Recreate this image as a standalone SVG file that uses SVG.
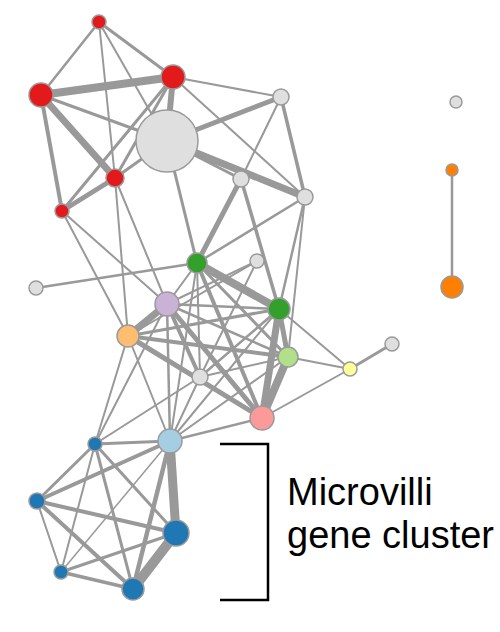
<svg xmlns="http://www.w3.org/2000/svg" width="500" height="632" viewBox="0 0 500 632">
<style>
.e{stroke:#999;stroke-linecap:round;fill:none}
.n{stroke:#9a9a9a;stroke-width:1.5}
.red{fill:#e31a1c}.gry{fill:#dfdfdf}.dg{fill:#33a02c}.li{fill:#cab2d6}.or{fill:#fdbf6f}
.lg{fill:#b2df8a}.ye{fill:#ffff99}.pk{fill:#fb9a99}.lb{fill:#a6cee3}.db{fill:#1f78b4}.og{fill:#ff7f00}
.lbl{font-family:"Liberation Sans",Arial,sans-serif;font-size:38px;fill:#000}
</style>
<rect width="500" height="632" fill="#fff"/>
<g id="connectors" class="e">
<line x1="99" y1="22" x2="41" y2="95" stroke-width="2.5"/>
<line x1="99" y1="22" x2="173" y2="77" stroke-width="3"/>
<line x1="99" y1="22" x2="115" y2="178" stroke-width="2"/>
<line x1="99" y1="22" x2="167" y2="141" stroke-width="2"/>
<line x1="41" y1="95" x2="173" y2="77" stroke-width="8"/>
<line x1="41" y1="95" x2="115" y2="178" stroke-width="7"/>
<line x1="41" y1="95" x2="62" y2="211" stroke-width="4"/>
<line x1="41" y1="95" x2="167" y2="141" stroke-width="3"/>
<line x1="173" y1="77" x2="167" y2="141" stroke-width="6"/>
<line x1="173" y1="77" x2="115" y2="178" stroke-width="3"/>
<line x1="173" y1="77" x2="62" y2="211" stroke-width="3"/>
<line x1="173" y1="77" x2="281" y2="97" stroke-width="2"/>
<line x1="173" y1="77" x2="305" y2="197" stroke-width="2"/>
<line x1="115" y1="178" x2="62" y2="211" stroke-width="5"/>
<line x1="115" y1="178" x2="167" y2="141" stroke-width="3"/>
<line x1="115" y1="178" x2="128" y2="336" stroke-width="2"/>
<line x1="115" y1="178" x2="167" y2="304" stroke-width="2"/>
<line x1="62" y1="211" x2="167" y2="304" stroke-width="2"/>
<line x1="62" y1="211" x2="128" y2="336" stroke-width="2"/>
<line x1="167" y1="141" x2="281" y2="97" stroke-width="5"/>
<line x1="167" y1="141" x2="305" y2="197" stroke-width="7"/>
<line x1="167" y1="141" x2="241" y2="179" stroke-width="3"/>
<line x1="167" y1="141" x2="197" y2="263" stroke-width="3"/>
<line x1="281" y1="97" x2="241" y2="179" stroke-width="2"/>
<line x1="281" y1="97" x2="305" y2="197" stroke-width="3.5"/>
<line x1="241" y1="179" x2="197" y2="263" stroke-width="5"/>
<line x1="241" y1="179" x2="279" y2="309" stroke-width="3.5"/>
<line x1="305" y1="197" x2="197" y2="263" stroke-width="2.5"/>
<line x1="305" y1="197" x2="279" y2="309" stroke-width="2.5"/>
<line x1="305" y1="197" x2="288" y2="357" stroke-width="2"/>
<line x1="36" y1="288" x2="197" y2="263" stroke-width="2.5"/>
<line x1="197" y1="263" x2="167" y2="304" stroke-width="2"/>
<line x1="197" y1="263" x2="279" y2="309" stroke-width="8"/>
<line x1="197" y1="263" x2="262" y2="418" stroke-width="4"/>
<line x1="197" y1="263" x2="288" y2="357" stroke-width="3"/>
<line x1="197" y1="263" x2="200" y2="377" stroke-width="2"/>
<line x1="197" y1="263" x2="170" y2="441" stroke-width="2"/>
<line x1="257" y1="261" x2="167" y2="304" stroke-width="2"/>
<line x1="257" y1="261" x2="128" y2="336" stroke-width="2"/>
<line x1="257" y1="261" x2="200" y2="377" stroke-width="2"/>
<line x1="167" y1="304" x2="128" y2="336" stroke-width="7"/>
<line x1="167" y1="304" x2="279" y2="309" stroke-width="2.5"/>
<line x1="167" y1="304" x2="288" y2="357" stroke-width="2.5"/>
<line x1="167" y1="304" x2="262" y2="418" stroke-width="5"/>
<line x1="167" y1="304" x2="200" y2="377" stroke-width="4"/>
<line x1="167" y1="304" x2="170" y2="441" stroke-width="2.5"/>
<line x1="167" y1="304" x2="95" y2="444" stroke-width="2"/>
<line x1="128" y1="336" x2="279" y2="309" stroke-width="3"/>
<line x1="128" y1="336" x2="288" y2="357" stroke-width="4"/>
<line x1="128" y1="336" x2="262" y2="418" stroke-width="5"/>
<line x1="128" y1="336" x2="170" y2="441" stroke-width="2"/>
<line x1="128" y1="336" x2="95" y2="444" stroke-width="2"/>
<line x1="279" y1="309" x2="288" y2="357" stroke-width="5"/>
<line x1="279" y1="309" x2="262" y2="418" stroke-width="7"/>
<line x1="279" y1="309" x2="200" y2="377" stroke-width="2.5"/>
<line x1="279" y1="309" x2="170" y2="441" stroke-width="2"/>
<line x1="279" y1="309" x2="350" y2="369" stroke-width="2"/>
<line x1="288" y1="357" x2="262" y2="418" stroke-width="8"/>
<line x1="288" y1="357" x2="200" y2="377" stroke-width="2"/>
<line x1="288" y1="357" x2="170" y2="441" stroke-width="2"/>
<line x1="288" y1="357" x2="350" y2="369" stroke-width="2"/>
<line x1="350" y1="369" x2="392" y2="344" stroke-width="3"/>
<line x1="262" y1="418" x2="350" y2="369" stroke-width="2"/>
<line x1="262" y1="418" x2="170" y2="441" stroke-width="2.5"/>
<line x1="200" y1="377" x2="170" y2="441" stroke-width="2"/>
<line x1="200" y1="377" x2="95" y2="444" stroke-width="2"/>
<line x1="170" y1="441" x2="95" y2="444" stroke-width="3"/>
<line x1="170" y1="441" x2="37" y2="501" stroke-width="4"/>
<line x1="170" y1="441" x2="176" y2="533" stroke-width="9"/>
<line x1="170" y1="441" x2="133" y2="589" stroke-width="4.5"/>
<line x1="170" y1="441" x2="61" y2="572" stroke-width="1.5"/>
<line x1="95" y1="444" x2="37" y2="501" stroke-width="3"/>
<line x1="95" y1="444" x2="176" y2="533" stroke-width="3"/>
<line x1="95" y1="444" x2="133" y2="589" stroke-width="3"/>
<line x1="95" y1="444" x2="61" y2="572" stroke-width="2"/>
<line x1="37" y1="501" x2="176" y2="533" stroke-width="4"/>
<line x1="37" y1="501" x2="133" y2="589" stroke-width="4"/>
<line x1="37" y1="501" x2="61" y2="572" stroke-width="2"/>
<line x1="61" y1="572" x2="176" y2="533" stroke-width="3"/>
<line x1="61" y1="572" x2="133" y2="589" stroke-width="3.5"/>
<line x1="176" y1="533" x2="133" y2="589" stroke-width="10"/>
<line x1="452" y1="170" x2="452" y2="287" stroke-width="2.5"/>
</g>
<g id="n-r1"><circle class="n red" cx="99" cy="22" r="7"/></g>
<g id="n-r2"><circle class="n red" cx="41" cy="95" r="12"/></g>
<g id="n-r3"><circle class="n red" cx="173" cy="77" r="12"/></g>
<g id="n-bg"><circle class="n gry" cx="167" cy="141" r="31"/></g>
<g id="n-r4"><circle class="n red" cx="115" cy="178" r="9"/></g>
<g id="n-r5"><circle class="n red" cx="62" cy="211" r="7"/></g>
<g id="n-w1"><circle class="n gry" cx="281" cy="97" r="8"/></g>
<g id="n-w2"><circle class="n gry" cx="241" cy="179" r="8"/></g>
<g id="n-w3"><circle class="n gry" cx="305" cy="197" r="8"/></g>
<g id="n-dg1"><circle class="n dg" cx="197" cy="263" r="10"/></g>
<g id="n-w4"><circle class="n gry" cx="257" cy="261" r="7"/></g>
<g id="n-w5"><circle class="n gry" cx="36" cy="288" r="7"/></g>
<g id="n-li"><circle class="n li" cx="167" cy="304" r="12"/></g>
<g id="n-dg2"><circle class="n dg" cx="279" cy="309" r="11"/></g>
<g id="n-or"><circle class="n or" cx="128" cy="336" r="11"/></g>
<g id="n-lg"><circle class="n lg" cx="288" cy="357" r="10"/></g>
<g id="n-ye"><circle class="n ye" cx="350" cy="369" r="7"/></g>
<g id="n-w6"><circle class="n gry" cx="392" cy="344" r="7"/></g>
<g id="n-w7"><circle class="n gry" cx="200" cy="377" r="8"/></g>
<g id="n-pk"><circle class="n pk" cx="262" cy="418" r="12"/></g>
<g id="n-lb"><circle class="n lb" cx="170" cy="441" r="12"/></g>
<g id="n-b1"><circle class="n db" cx="95" cy="444" r="7"/></g>
<g id="n-b2"><circle class="n db" cx="37" cy="501" r="8"/></g>
<g id="n-b3"><circle class="n db" cx="176" cy="533" r="13"/></g>
<g id="n-b4"><circle class="n db" cx="61" cy="572" r="7"/></g>
<g id="n-b5"><circle class="n db" cx="133" cy="589" r="11"/></g>
<g id="n-w8"><circle class="n gry" cx="456" cy="102" r="6"/></g>
<g id="n-o1"><circle class="n og" cx="452" cy="170" r="6"/></g>
<g id="n-o2"><circle class="n og" cx="452" cy="287" r="11"/></g>
<g id="bracket"><path d="M220,444 H268 V600 H220" fill="none" stroke="#000" stroke-width="2.5"/></g>
<g id="label">
<text class="lbl" x="287" y="505">Microvilli</text>
<text class="lbl" x="287" y="548">gene cluster</text>
</g>
</svg>
